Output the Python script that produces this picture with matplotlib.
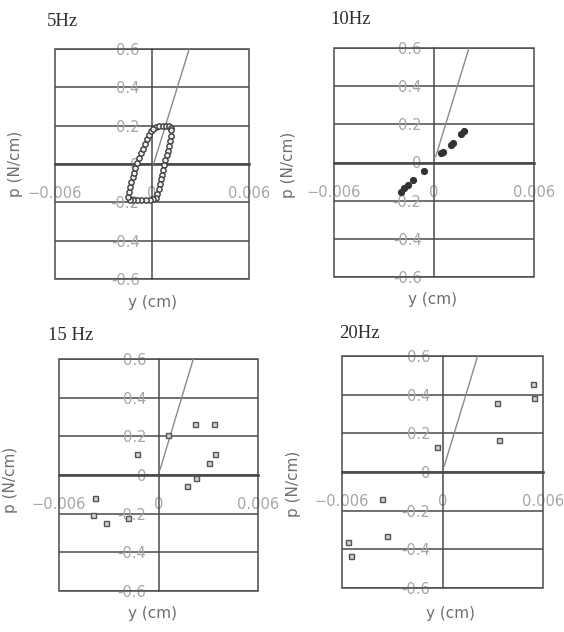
import matplotlib
matplotlib.use("Agg")
import matplotlib.pyplot as plt
from matplotlib.patches import Rectangle

# ---------------- data ----------------
titles = ["5Hz", "10Hz", "15 Hz", "20Hz"]
x_ticks = [-0.006, 0.0, 0.006]
x_tick_labels = ["\u22120.006", "0", "0.006"]
y_ticks = [-0.6, -0.4, -0.2, 0.0, 0.2, 0.4, 0.6]
y_tick_labels = ["-0.6", "-0.4", "-0.2", "0", "0.2", "0.4", "0.6"]
x_label = "y (cm)"
y_label = "p (N/cm)"

# reference line (stiffness) per panel
line5_x = [0.0001, 0.0023]
line5_y = [0.0, 0.6]
line_x = [0.0001, 0.0021]
line_y = [0.03, 0.6]

# 5 Hz hysteresis loop (x in 1e-3 cm)
loop5_x = [0.25, 0.45, 0.65, 0.85, 1.05, 1.18,
           1.20, 1.16, 1.10, 1.04, 0.97, 0.90, 0.83, 0.76, 0.69, 0.62, 0.55, 0.48, 0.41, 0.32, 0.22,
           0.08, -0.15, -0.40, -0.65, -0.90, -1.15, -1.38,
           -1.47, -1.40, -1.34, -1.27, -1.20, -1.12, -1.04, -0.94, -0.82, -0.70, -0.57, -0.44, -0.30, -0.17, -0.04, 0.08]
loop5_y = [0.195, 0.20, 0.20, 0.20, 0.20, 0.19,
           0.175, 0.145, 0.12, 0.095, 0.07, 0.045, 0.02, -0.005, -0.03, -0.055, -0.08, -0.105, -0.13, -0.155, -0.175,
           -0.185, -0.188, -0.19, -0.19, -0.19, -0.19, -0.188,
           -0.17, -0.145, -0.12, -0.095, -0.07, -0.045, -0.02, 0.005, 0.03, 0.055, 0.08, 0.105, 0.13, 0.15, 0.17, 0.185]

# 10 Hz points
pts10_x = [0.0018, 0.0016, 0.00116, 0.0010, 0.00056, 0.0004, -0.0006, -0.00124, -0.00156, -0.0018, -0.0020]
pts10_y = [0.167, 0.150, 0.104, 0.094, 0.057, 0.049, -0.043, -0.090, -0.117, -0.134, -0.157]

# 15 Hz points
pts15_x = [0.0022, 0.00337, 0.00055, -0.00128, 0.00341, 0.00305, 0.00224, 0.0017,
           -0.00383, -0.00393, -0.00317, -0.00182]
pts15_y = [0.262, 0.262, 0.207, 0.107, 0.107, 0.064, -0.017, -0.057,
           -0.12, -0.207, -0.25, -0.224]

# 20 Hz points
pts20_x = [0.00538, 0.00548, 0.00324, 0.00339, -0.0003, -0.00363, -0.0033, -0.00562, -0.00548]
pts20_y = [0.455, 0.381, 0.358, 0.166, 0.128, -0.141, -0.331, -0.36, -0.435]

# ---------------- layout ----------------
W, H = 564, 632
fig = plt.figure(figsize=(W / 100, H / 100), dpi=100)
fig.patch.set_facecolor("white")

boxes = [(55, 49, 249, 279), (334, 48, 534, 277), (59, 359, 258, 591), (342, 356, 543, 588)]
title_pos = [(47, 22), (330, 20), (48, 336), (339, 334)]
ylab_pos = [(-0.206, 0.50), (-0.225, 0.49), (-0.246, 0.48), (-0.24, 0.45)]
xlab_pos = [(0.50, -0.10), (0.49, -0.10), (0.47, -0.099), (0.54, -0.108)]

grid_c = "#4a4a4a"
tick_c = "#a6a6a6"
lab_c = "#6e6e6e"

axes = []
for i, (l, t, r, b) in enumerate(boxes):
    ax = fig.add_axes([l / W, 1 - b / H, (r - l) / W, (b - t) / H])
    ax.set_xlim(-0.006, 0.006)
    ax.set_ylim(-0.6, 0.6)
    ax.set_facecolor("none")
    for s in ["top", "right"]:
        ax.spines[s].set_visible(False)
    ax.spines["left"].set_position(("data", 0))
    ax.spines["bottom"].set_position(("data", 0))
    ax.spines["left"].set_color(grid_c)
    ax.spines["left"].set_linewidth(1.1)
    ax.spines["bottom"].set_color(grid_c)
    ax.spines["bottom"].set_linewidth(1.9)
    ax.set_xticks(x_ticks, x_tick_labels)
    ax.set_yticks(y_ticks, y_tick_labels)
    ax.tick_params(axis="y", length=0, pad=9, labelsize=10.5, labelcolor=tick_c)
    ax.tick_params(axis="x", length=0, pad=16, labelsize=10.5, labelcolor=tick_c)
    ax.grid(axis="y", color=grid_c, linewidth=1.1)
    ax.add_patch(Rectangle((0, 0), 1, 1, transform=ax.transAxes, fill=False,
                           edgecolor=grid_c, linewidth=1.1, clip_on=False, zorder=3))
    ax.set_ylabel(y_label, fontsize=11, color=lab_c, va="center")
    ax.yaxis.set_label_coords(*ylab_pos[i])
    ax.set_xlabel(x_label, fontsize=11, color=lab_c, va="center")
    ax.xaxis.set_label_coords(*xlab_pos[i])
    fig.text(title_pos[i][0] / W, 1 - title_pos[i][1] / H, titles[i],
             family="Liberation Serif", fontsize=13.5, color="#2e2e2e",
             ha="left", va="center")
    axes.append(ax)

ax1, ax2, ax3, ax4 = axes
ax1.plot(line5_x, line5_y, color="#8a8a8a", lw=1.0, zorder=4)
ax1.plot([v * 1e-3 for v in loop5_x], loop5_y, ls="none", marker="o", ms=3.8,
         mfc="#f0f0f0", mec="#3c3c3c", mew=1.0, zorder=5)

ax2.plot(line_x, line_y, color="#8a8a8a", lw=1.0, zorder=4)
ax2.plot(pts10_x, pts10_y, ls="none", marker="o", ms=4.2, mfc="#333333", mec="#333333", zorder=5)

ax3.plot(line_x, line_y, color="#8a8a8a", lw=1.0, zorder=4)
ax3.plot(pts15_x, pts15_y, ls="none", marker="s", ms=3.6, mfc="#d0d0d0", mec="#555555", mew=1.0, zorder=5)

ax4.plot(line_x, line_y, color="#8a8a8a", lw=1.0, zorder=4)
ax4.plot(pts20_x, pts20_y, ls="none", marker="s", ms=3.6, mfc="#d0d0d0", mec="#555555", mew=1.0, zorder=5)

fig.savefig("out.png", dpi=100, facecolor="white")
